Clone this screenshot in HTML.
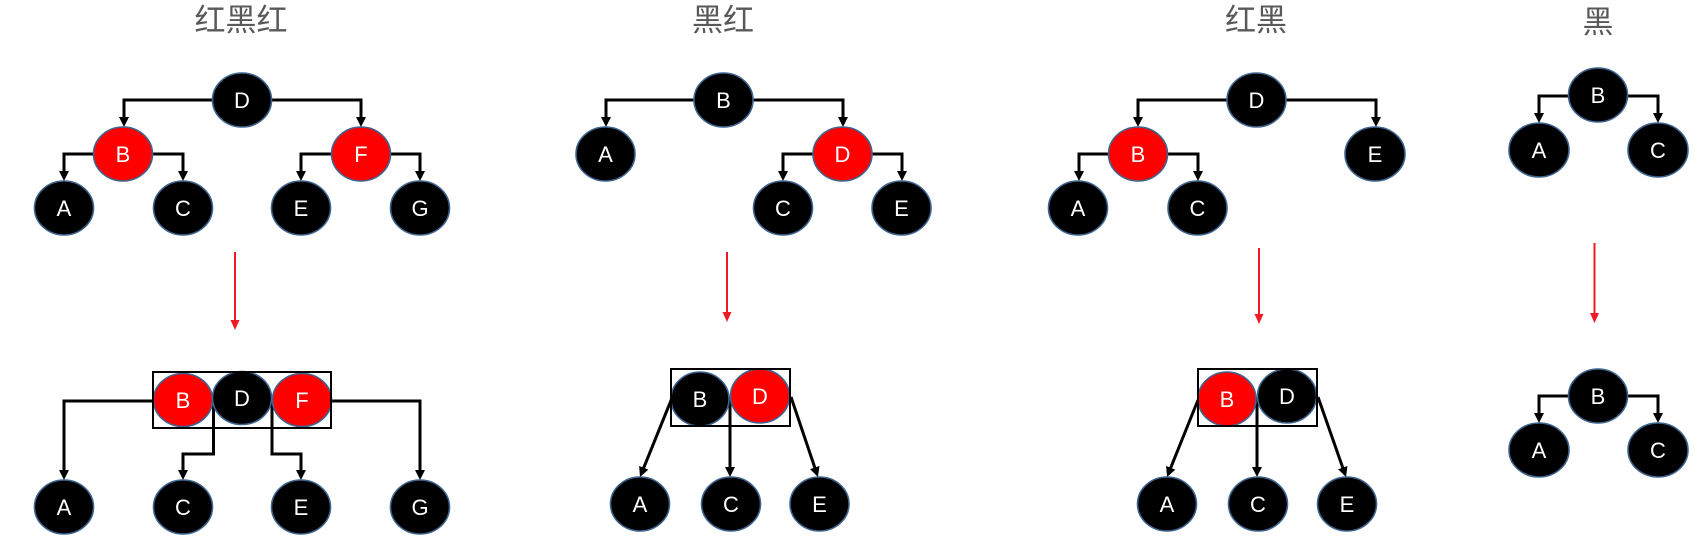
<!DOCTYPE html>
<html>
<head>
<meta charset="utf-8">
<style>
html,body{margin:0;padding:0;background:#fff;}
svg{display:block;}
.t{font-family:"Liberation Sans","Noto Sans CJK SC",sans-serif;font-size:31px;fill:#595959;text-anchor:middle;}
.n{stroke:#3d6590;stroke-width:1.6;}
.k{fill:#000;}
.r{fill:#ff0000;}
.l{font-family:"Liberation Sans",sans-serif;font-size:22px;fill:#fff;text-anchor:middle;}
.c{fill:none;stroke:#000;stroke-width:3;marker-end:url(#ah);}
.ra{fill:none;stroke:#ed1c24;stroke-width:2;marker-end:url(#rh);}
.box{fill:none;stroke:#000;stroke-width:2;}
</style>
</head>
<body>
<svg width="1694" height="541" viewBox="0 0 1694 541" xmlns="http://www.w3.org/2000/svg">
<defs>
<marker id="ah" viewBox="0 0 10 10" refX="2" refY="5" markerWidth="10" markerHeight="10" markerUnits="userSpaceOnUse" orient="auto"><path d="M0,0 L10,5 L0,10 z" fill="#000"/></marker>
<marker id="rh" viewBox="0 0 10 9" refX="2" refY="4.5" markerWidth="10" markerHeight="9" markerUnits="userSpaceOnUse" orient="auto"><path d="M0,0 L10,4.5 L0,9 z" fill="#ed1c24"/></marker>
</defs>

<!-- Titles -->
<text class="t" x="241" y="31">红黑红</text>
<text class="t" x="723" y="31">黑红</text>
<text class="t" x="1256" y="31">红黑</text>
<text class="t" x="1598" y="33">黑</text>

<!-- ===== Section 1 top ===== -->
<path class="c" d="M212.5,100 H124 V119"/>
<path class="c" d="M271.5,100 H361 V119"/>
<path class="c" d="M93.5,154 H64 V173"/>
<path class="c" d="M152.5,154 H183 V173"/>
<path class="c" d="M331.5,154 H301 V173"/>
<path class="c" d="M390.5,154 H420 V173"/>
<ellipse class="n k" cx="242" cy="100" rx="29.5" ry="27"/><text class="l" x="242" y="108">D</text>
<ellipse class="n r" cx="123" cy="154" rx="29.5" ry="27"/><text class="l" x="123" y="162">B</text>
<ellipse class="n r" cx="361" cy="154" rx="29.5" ry="27"/><text class="l" x="361" y="162">F</text>
<ellipse class="n k" cx="64" cy="208" rx="29.5" ry="27"/><text class="l" x="64" y="216">A</text>
<ellipse class="n k" cx="183" cy="208" rx="29.5" ry="27"/><text class="l" x="183" y="216">C</text>
<ellipse class="n k" cx="301" cy="208" rx="29.5" ry="27"/><text class="l" x="301" y="216">E</text>
<ellipse class="n k" cx="420" cy="208" rx="29.5" ry="27"/><text class="l" x="420" y="216">G</text>
<path class="ra" d="M235,252 V322"/>

<!-- ===== Section 1 bottom ===== -->
<path class="c" d="M153.5,401 H64 V472"/>
<path class="c" d="M213.5,400 V454 H183 V472"/>
<path class="c" d="M272,400 V454 H301 V472"/>
<path class="c" d="M331.5,401 H420 V472"/>
<ellipse class="n r" cx="183" cy="400" rx="29.5" ry="26.5"/><text class="l" x="183" y="408">B</text>
<ellipse class="n r" cx="302" cy="400" rx="29.5" ry="26.5"/><text class="l" x="302" y="408">F</text>
<ellipse class="n k" cx="242" cy="398" rx="29.5" ry="26.5"/><text class="l" x="242" y="406">D</text>
<rect class="box" x="153" y="372" width="178" height="56"/>
<ellipse class="n k" cx="64" cy="507" rx="29.5" ry="27"/><text class="l" x="64" y="515">A</text>
<ellipse class="n k" cx="183" cy="507" rx="29.5" ry="27"/><text class="l" x="183" y="515">C</text>
<ellipse class="n k" cx="301" cy="507" rx="29.5" ry="27"/><text class="l" x="301" y="515">E</text>
<ellipse class="n k" cx="420" cy="507" rx="29.5" ry="27"/><text class="l" x="420" y="515">G</text>

<!-- ===== Section 2 top ===== -->
<path class="c" d="M694,100 H606 V119"/>
<path class="c" d="M753,100 H843 V119"/>
<path class="c" d="M813,154 H783 V173"/>
<path class="c" d="M872,154 H902 V173"/>
<ellipse class="n k" cx="723.5" cy="100" rx="29.5" ry="27"/><text class="l" x="723.5" y="108">B</text>
<ellipse class="n k" cx="605.5" cy="154" rx="29.5" ry="27"/><text class="l" x="605.5" y="162">A</text>
<ellipse class="n r" cx="842.5" cy="154" rx="29.5" ry="27"/><text class="l" x="842.5" y="162">D</text>
<ellipse class="n k" cx="783" cy="208" rx="29.5" ry="27"/><text class="l" x="783" y="216">C</text>
<ellipse class="n k" cx="901.5" cy="208" rx="29.5" ry="27"/><text class="l" x="901.5" y="216">E</text>
<path class="ra" d="M727,252 V314"/>

<!-- ===== Section 2 bottom ===== -->
<path class="c" d="M672,398 L643,469.6"/>
<path class="c" d="M730,397 V469"/>
<path class="c" d="M791,397 L815.4,469.4"/>
<ellipse class="n k" cx="700" cy="399" rx="29" ry="27"/><text class="l" x="700" y="407">B</text>
<ellipse class="n r" cx="760" cy="396" rx="29.5" ry="27"/><text class="l" x="760" y="404">D</text>
<rect class="box" x="671" y="369" width="119" height="57"/>
<ellipse class="n k" cx="640" cy="504" rx="29.5" ry="27"/><text class="l" x="640" y="512">A</text>
<ellipse class="n k" cx="731" cy="504" rx="29.5" ry="27"/><text class="l" x="731" y="512">C</text>
<ellipse class="n k" cx="819.5" cy="504" rx="29.5" ry="27"/><text class="l" x="819.5" y="512">E</text>

<!-- ===== Section 3 top ===== -->
<path class="c" d="M1227,100 H1138 V119"/>
<path class="c" d="M1286,100 H1376 V119"/>
<path class="c" d="M1108.5,154 H1079 V173"/>
<path class="c" d="M1167.5,154 H1198 V173"/>
<ellipse class="n k" cx="1256.5" cy="100" rx="29.5" ry="27"/><text class="l" x="1256.5" y="108">D</text>
<ellipse class="n r" cx="1138" cy="154" rx="29.5" ry="27"/><text class="l" x="1138" y="162">B</text>
<ellipse class="n k" cx="1375" cy="154" rx="30" ry="27"/><text class="l" x="1375" y="162">E</text>
<ellipse class="n k" cx="1078" cy="208" rx="29.5" ry="27"/><text class="l" x="1078" y="216">A</text>
<ellipse class="n k" cx="1197.5" cy="208" rx="29.5" ry="27"/><text class="l" x="1197.5" y="216">C</text>
<path class="ra" d="M1259,248 V316"/>

<!-- ===== Section 3 bottom ===== -->
<path class="c" d="M1198,400 L1170,469.6"/>
<path class="c" d="M1257,397 V469"/>
<path class="c" d="M1318,397 L1343.4,469.5"/>
<ellipse class="n r" cx="1227" cy="399" rx="29" ry="27"/><text class="l" x="1227" y="407">B</text>
<ellipse class="n k" cx="1287" cy="396" rx="29.5" ry="27"/><text class="l" x="1287" y="404">D</text>
<rect class="box" x="1198" y="369" width="119" height="57"/>
<ellipse class="n k" cx="1167" cy="504" rx="29.5" ry="27"/><text class="l" x="1167" y="512">A</text>
<ellipse class="n k" cx="1258" cy="504" rx="29.5" ry="27"/><text class="l" x="1258" y="512">C</text>
<ellipse class="n k" cx="1347" cy="504" rx="29.5" ry="27"/><text class="l" x="1347" y="512">E</text>

<!-- ===== Section 4 top ===== -->
<path class="c" d="M1568.5,96 H1539 V115"/>
<path class="c" d="M1627.5,96 H1658 V115"/>
<ellipse class="n k" cx="1598" cy="95" rx="29.5" ry="27"/><text class="l" x="1598" y="103">B</text>
<ellipse class="n k" cx="1539" cy="150" rx="30" ry="27"/><text class="l" x="1539" y="158">A</text>
<ellipse class="n k" cx="1658" cy="150" rx="30" ry="27"/><text class="l" x="1658" y="158">C</text>
<path class="ra" d="M1594.5,243 V315"/>

<!-- ===== Section 4 bottom ===== -->
<path class="c" d="M1568.5,396 H1539 V415"/>
<path class="c" d="M1627.5,396 H1658 V415"/>
<ellipse class="n k" cx="1598" cy="396" rx="29.5" ry="27"/><text class="l" x="1598" y="404">B</text>
<ellipse class="n k" cx="1539" cy="450" rx="30" ry="27"/><text class="l" x="1539" y="458">A</text>
<ellipse class="n k" cx="1658" cy="450" rx="30" ry="27"/><text class="l" x="1658" y="458">C</text>
</svg>
</body>
</html>
